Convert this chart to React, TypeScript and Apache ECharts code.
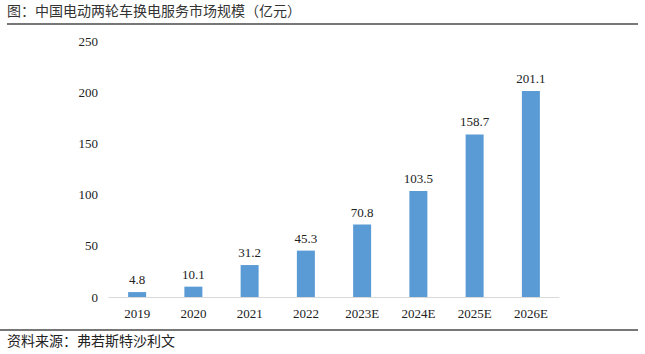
import React, { useEffect, useRef } from "react";
import * as echarts from "echarts";

const categories = ["2019", "2020", "2021", "2022", "2023E", "2024E", "2025E", "2026E"];
const values = [4.8, 10.1, 31.2, 45.3, 70.8, 103.5, 158.7, 201.1];
const titleText = "图：中国电动两轮车换电服务市场规模（亿元）";
const sourceText = "资料来源：弗若斯特沙利文";

const FONT = "Liberation Serif";
const CJK = "Noto Sans CJK SC";

export default function App() {
  const ref = useRef<HTMLDivElement>(null);
  useEffect(() => {
    if (!ref.current) return;
    const chart = echarts.init(ref.current, undefined, { renderer: "svg" });
    chart.setOption({
      animation: false,
      backgroundColor: "#ffffff",
      grid: { left: 109, right: 86, top: 41, bottom: 57 },
      xAxis: {
        type: "category",
        data: categories,
        axisLine: { lineStyle: { color: "#d9d9d9", width: 1 } },
        axisTick: { show: false },
        axisLabel: { color: "#222", fontFamily: FONT, fontSize: 13, margin: 10 },
      },
      yAxis: {
        type: "value",
        min: 0,
        max: 250,
        interval: 50,
        splitLine: { show: false },
        axisLine: { show: false },
        axisTick: { show: false },
        axisLabel: { color: "#222", fontFamily: FONT, fontSize: 13, margin: 11 },
      },
      series: [
        {
          type: "bar",
          data: values,
          barWidth: 18,
          itemStyle: { color: "#5B9BD5" },
          label: {
            show: true,
            position: "top",
            color: "#222",
            fontFamily: FONT,
            fontSize: 13,
            distance: 6,
          },
        },
      ],
      graphic: [
        {
          type: "text",
          left: 7,
          top: 3,
          style: { text: titleText, fontFamily: CJK, fontSize: 14, fill: "#333" },
        },
        {
          type: "line",
          shape: { x1: 7, y1: 24, x2: 638, y2: 24 },
          style: { stroke: "#777", lineWidth: 2 },
        },
        {
          type: "line",
          shape: { x1: 0, y1: 330, x2: 638, y2: 330 },
          style: { stroke: "#777", lineWidth: 2 },
        },
        {
          type: "text",
          left: 7,
          top: 333,
          style: { text: sourceText, fontFamily: CJK, fontSize: 14, fill: "#222" },
        },
      ],
    });
    return () => chart.dispose();
  }, []);
  return (
    <div
      ref={ref}
      style={{ position: "fixed", left: 0, top: 0, width: 645, height: 354 }}
    />
  );
}
